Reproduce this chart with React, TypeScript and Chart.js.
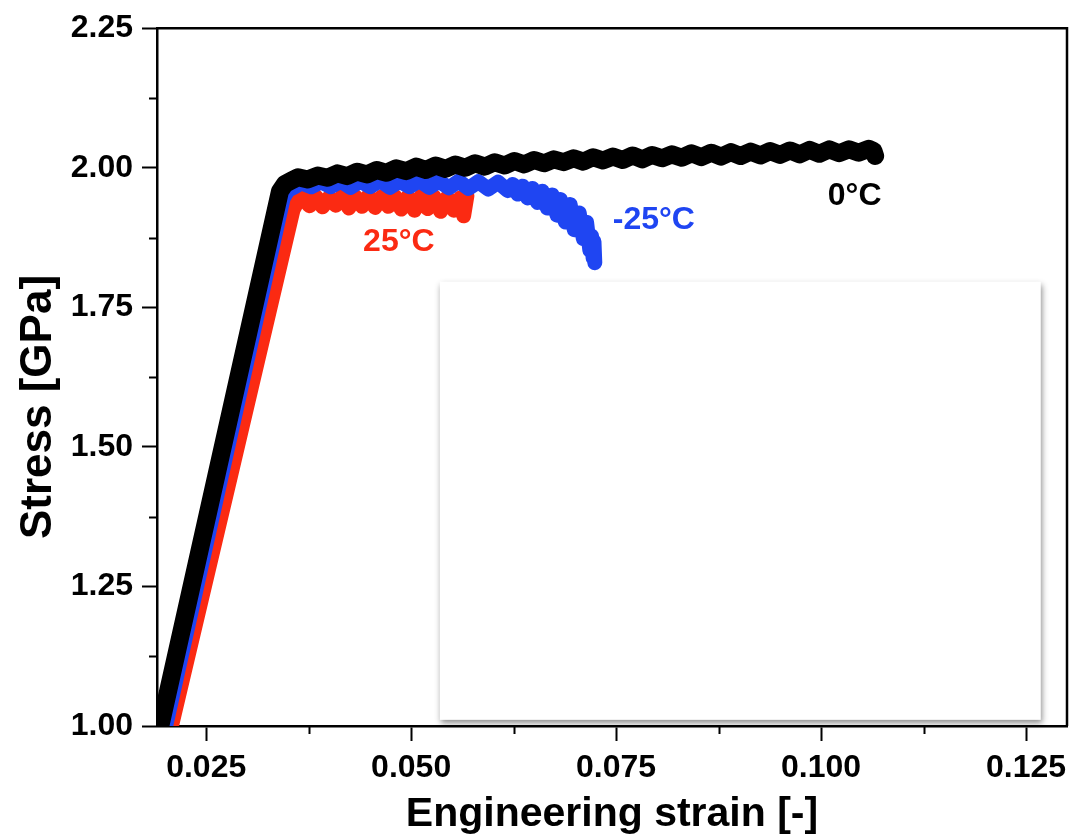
import React, { useEffect, useRef } from "react";
import { Chart, registerables } from "chart.js";

Chart.register(...registerables);

// ---------- data ----------
const xTicks = [0.025, 0.05, 0.075, 0.1, 0.125];
const xMinorTicks = [0.0375, 0.0625, 0.0875, 0.1125];
const yTicks = [1.0, 1.25, 1.5, 1.75, 2.0, 2.25];
const yMinorTicks = [1.125, 1.375, 1.625, 1.875, 2.125];

const seriesNames = ["0°C", "-25°C", "25°C"];

const strain0C = [0.01925, 0.0262, 0.034, 0.0346, 0.0354, 0.0362, 0.0374, 0.0386, 0.0398, 0.041, 0.0422, 0.0434, 0.0446, 0.0458, 0.047, 0.0482, 0.0494, 0.0506, 0.0518, 0.053, 0.0542, 0.0554, 0.0566, 0.0578, 0.059, 0.0602, 0.0614, 0.0626, 0.0638, 0.065, 0.0662, 0.0674, 0.0686, 0.0698, 0.071, 0.0722, 0.0734, 0.0746, 0.0758, 0.077, 0.0782, 0.0794, 0.0806, 0.0818, 0.083, 0.0842, 0.0854, 0.0866, 0.0878, 0.089, 0.0902, 0.0914, 0.0926, 0.0938, 0.095, 0.0962, 0.0974, 0.0986, 0.0998, 0.101, 0.1022, 0.1034, 0.1046, 0.1058, 0.1064, 0.1066];
const stress0C = [0.99, 1.446, 1.958, 1.971, 1.977, 1.983, 1.979, 1.986, 1.982, 1.99, 1.985, 1.993, 1.988, 1.996, 1.991, 1.999, 1.994, 2.002, 1.996, 2.004, 1.998, 2.006, 2.0, 2.008, 2.002, 2.01, 2.004, 2.012, 2.006, 2.014, 2.008, 2.015, 2.01, 2.017, 2.011, 2.019, 2.013, 2.02, 2.014, 2.022, 2.015, 2.023, 2.017, 2.024, 2.018, 2.026, 2.019, 2.027, 2.02, 2.028, 2.021, 2.029, 2.022, 2.03, 2.023, 2.031, 2.024, 2.032, 2.025, 2.033, 2.026, 2.033, 2.027, 2.034, 2.03, 2.021];

const strainM25C = [0.0199, 0.0268, 0.0344, 0.035, 0.0358, 0.0366, 0.0378, 0.039, 0.0402, 0.0414, 0.0426, 0.0438, 0.045, 0.0462, 0.0474, 0.0486, 0.0498, 0.051, 0.0522, 0.0534, 0.0546, 0.0558, 0.057, 0.0582, 0.0594, 0.0606, 0.0618, 0.0624, 0.063, 0.0636, 0.0642, 0.0648, 0.0654, 0.066, 0.0666, 0.0672, 0.0678, 0.0682, 0.0688, 0.0694, 0.0699, 0.0705, 0.071, 0.0714, 0.0718, 0.072, 0.0722, 0.0723, 0.0724];
const stressM25C = [0.99, 1.445, 1.946, 1.96, 1.966, 1.973, 1.966, 1.975, 1.966, 1.976, 1.965, 1.976, 1.966, 1.977, 1.965, 1.976, 1.966, 1.977, 1.965, 1.976, 1.964, 1.976, 1.963, 1.975, 1.962, 1.974, 1.959, 1.97, 1.953, 1.967, 1.946, 1.963, 1.938, 1.958, 1.928, 1.951, 1.915, 1.943, 1.903, 1.934, 1.889, 1.919, 1.873, 1.902, 1.852, 1.878, 1.838, 1.868, 1.83];

const strain25C = [0.0206, 0.028, 0.0356, 0.0362, 0.0368, 0.0376, 0.0384, 0.0392, 0.04, 0.0408, 0.0416, 0.0424, 0.0432, 0.044, 0.0448, 0.0456, 0.0464, 0.0472, 0.048, 0.0488, 0.0496, 0.0504, 0.0512, 0.052, 0.0528, 0.0536, 0.0544, 0.0552, 0.056, 0.0564, 0.0568];
const stress25C = [0.99, 1.45, 1.925, 1.941, 1.946, 1.932, 1.948, 1.93, 1.947, 1.933, 1.949, 1.928, 1.948, 1.931, 1.95, 1.929, 1.948, 1.931, 1.949, 1.926, 1.948, 1.924, 1.949, 1.927, 1.948, 1.922, 1.947, 1.924, 1.946, 1.914, 1.95];

// ---------- styling ----------
const FONT = "'Liberation Sans', Arial, Helvetica, sans-serif";
const COLORS = ["#000000", "#1f45f2", "#fb2a12"];
const WIDTHS = [18, 15, 15];

// text annotations placed in data coordinates
const annotations = [
  { text: seriesNames[0], x: 0.1041, y: 1.95, color: COLORS[0] },
  { text: seriesNames[1], x: 0.0796, y: 1.907, color: COLORS[1] },
  { text: seriesNames[2], x: 0.0485, y: 1.866, color: COLORS[2] },
];
const insetBox = { x0: 0.0535, x1: 0.1268, y0: 1.011, y1: 1.796 };

const toPoints = (xs: number[], ys: number[]) => xs.map((x, i) => ({ x, y: ys[i] }));

const decorPlugin = {
  id: "decor",
  beforeDatasetsDraw(chart: any) {
    const { ctx, scales } = chart;
    const xs = scales.x;
    const ys = scales.y;
    const l = xs.getPixelForValue(insetBox.x0);
    const r = xs.getPixelForValue(insetBox.x1);
    const t = ys.getPixelForValue(insetBox.y1);
    const b = ys.getPixelForValue(insetBox.y0);
    ctx.save();
    ctx.shadowColor = "rgba(0,0,0,0.45)";
    ctx.shadowBlur = 6;
    ctx.shadowOffsetX = 1;
    ctx.shadowOffsetY = 3;
    ctx.fillStyle = "#ffffff";
    ctx.fillRect(l, t, r - l, b - t);
    ctx.restore();
  },
  afterDraw(chart: any) {
    const { ctx, scales, chartArea } = chart;
    const xs = scales.x;
    const ys = scales.y;
    ctx.save();
    // frame top and right
    ctx.strokeStyle = "#000";
    ctx.lineWidth = 2.5;
    ctx.beginPath();
    ctx.moveTo(chartArea.left, chartArea.top);
    ctx.lineTo(chartArea.right, chartArea.top);
    ctx.lineTo(chartArea.right, chartArea.bottom);
    ctx.stroke();
    // minor ticks
    ctx.lineWidth = 2;
    ctx.beginPath();
    xMinorTicks.forEach((v) => {
      const p = Math.round(xs.getPixelForValue(v)) + 0.5;
      ctx.moveTo(p, chartArea.bottom);
      ctx.lineTo(p, chartArea.bottom + 8);
    });
    yMinorTicks.forEach((v) => {
      const p = Math.round(ys.getPixelForValue(v)) + 0.5;
      ctx.moveTo(chartArea.left, p);
      ctx.lineTo(chartArea.left - 8, p);
    });
    ctx.stroke();
    // annotations
    ctx.font = `bold 32px ${FONT}`;
    ctx.textAlign = "center";
    ctx.textBaseline = "middle";
    annotations.forEach((a) => {
      ctx.fillStyle = a.color;
      ctx.fillText(a.text, xs.getPixelForValue(a.x), ys.getPixelForValue(a.y));
    });
    // y-axis title
    ctx.fillStyle = "#000";
    ctx.font = `bold 44px ${FONT}`;
    ctx.translate(39, 407);
    ctx.rotate(-Math.PI / 2);
    ctx.fillText("Stress [GPa]", 0, 0);
    ctx.restore();
  },
};

export default function App() {
  const ref = useRef<HTMLCanvasElement>(null);
  useEffect(() => {
    document.body.style.margin = "0";
    const canvas = ref.current!;
    const chart = new Chart(canvas, {
      type: "line",
      data: {
        datasets: [
          { label: seriesNames[0], data: toPoints(strain0C, stress0C) },
          { label: seriesNames[1], data: toPoints(strainM25C, stressM25C) },
          { label: seriesNames[2], data: toPoints(strain25C, stress25C) },
        ].map((d, i) => ({
          ...d,
          borderColor: COLORS[i],
          backgroundColor: COLORS[i],
          borderWidth: WIDTHS[i],
          borderJoinStyle: "round" as const,
          borderCapStyle: "round" as const,
          pointRadius: 0,
          tension: 0,
          fill: false,
          clip: 0,
        })),
      },
      options: {
        responsive: false,
        animation: false,
        devicePixelRatio: 1,
        layout: { padding: { top: 25, right: 13, left: 0, bottom: 0 } },
        plugins: { legend: { display: false }, tooltip: { enabled: false } },
        scales: {
          x: {
            type: "linear",
            min: 0.019,
            max: 0.13,
            afterBuildTicks: (s: any) => {
              s.ticks = xTicks.map((v) => ({ value: v }));
            },
            afterFit: (s: any) => {
              s.height = 114;
            },
            ticks: {
              callback: (v: any) => Number(v).toFixed(3),
              color: "#000",
              font: { family: FONT, size: 32, weight: "bold" },
              padding: 8,
              maxRotation: 0,
            },
            grid: {
              drawOnChartArea: false,
              drawTicks: true,
              tickLength: 15,
              tickWidth: 2,
              tickColor: "#000",
            },
            border: { display: true, color: "#000", width: 2.5 },
            title: {
              display: true,
              text: "Engineering strain [-]",
              color: "#000",
              font: { family: FONT, size: 41, weight: "bold" },
              padding: { top: 0, bottom: 1 },
            },
          },
          y: {
            type: "linear",
            min: 1.0,
            max: 2.25,
            afterBuildTicks: (s: any) => {
              s.ticks = yTicks.map((v) => ({ value: v }));
            },
            afterFit: (s: any) => {
              s.width = 157;
            },
            ticks: {
              callback: (v: any) => Number(v).toFixed(2),
              color: "#000",
              font: { family: FONT, size: 32, weight: "bold" },
              padding: 9,
            },
            grid: {
              drawOnChartArea: false,
              drawTicks: true,
              tickLength: 15,
              tickWidth: 2,
              tickColor: "#000",
            },
            border: { display: true, color: "#000", width: 2.5 },
          },
        },
      },
      plugins: [decorPlugin],
    });
    return () => chart.destroy();
  }, []);
  return (
    <div style={{ position: "fixed", left: 0, top: 0, width: 1080, height: 840, background: "#fff" }}>
      <canvas ref={ref} width={1080} height={840} style={{ display: "block" }} />
    </div>
  );
}
